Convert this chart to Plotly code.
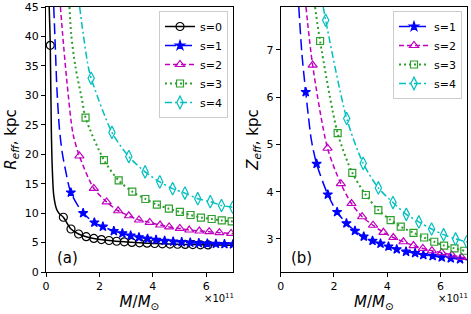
import plotly.graph_objects as go

W, H = 471, 314

# ---------------- data (x in units of 1e11 M_sun) ----------------
labels_a = ["s=0", "s=1", "s=2", "s=3", "s=4"]
labels_b = ["s=1", "s=2", "s=3", "s=4"]

# Panel (a): R_eff [kpc]
a0_mx = [0.16, 0.65, 0.935, 1.22, 1.505, 1.79, 2.075, 2.36, 2.645, 2.93, 3.215,
         3.5, 3.785, 4.07, 4.355, 4.64, 4.925, 5.21, 5.495, 5.78, 6.065]
a0_my = [38.5, 9.3, 7.3, 6.45, 6.0, 5.7, 5.5, 5.35, 5.22, 5.12, 5.03,
         4.96, 4.9, 4.84, 4.79, 4.75, 4.71, 4.68, 4.65, 4.62, 4.6]
a0_lx = [0.12, 0.16, 0.2, 0.24, 0.29, 0.4, 0.5, 0.65, 0.935, 1.22, 1.505, 1.79, 2.36,
         2.93, 3.5, 4.07, 4.64, 5.21, 5.78, 6.35, 7.0]
a0_ly = [45, 38.5, 24, 17, 13, 10.6, 9.9, 9.3, 7.3, 6.45, 6.0, 5.7, 5.35,
         5.12, 4.96, 4.84, 4.75, 4.68, 4.62, 4.58, 4.55]

a1_mx = [0.93, 1.39, 1.81, 2.13, 2.54, 2.86, 3.17, 3.48, 3.8, 4.12, 4.44, 4.76,
         5.08, 5.4, 5.72, 6.04, 6.36, 6.68, 7.0]
a1_my = [13.5, 10.0, 8.4, 7.7, 6.96, 6.56, 6.17, 5.89, 5.65, 5.45, 5.3, 5.17,
         5.07, 4.98, 4.9, 4.84, 4.78, 4.74, 4.7]
a1_lx = [0.29, 0.35, 0.41, 0.5, 0.6, 0.73] + a1_mx
a1_ly = [45, 38, 31, 24.5, 20.5, 17.3] + a1_my

a2_mx = [1.25, 1.79, 2.27, 2.7, 3.1, 3.48, 3.88, 4.27, 4.61, 5.01, 5.36, 5.74,
         6.11, 6.49, 6.93]
a2_my = [19.7, 14.2, 11.9, 10.4, 9.55, 8.83, 8.43, 7.98, 7.65, 7.4, 7.13, 6.96,
         6.85, 6.68, 6.55]
a2_lx = [0.54, 0.62, 0.79, 1.01] + a2_mx + [7.0]
a2_ly = [45, 40.5, 32, 23.5] + a2_my + [6.52]

a3_mx = [1.48, 2.17, 2.72, 3.23, 3.72, 4.15, 4.6, 5.01, 5.41, 5.8, 6.2, 6.58, 6.95]
a3_my = [26.2, 19.0, 15.55, 13.65, 12.4, 11.45, 10.75, 10.2, 9.68, 9.25, 9.0, 8.75, 8.6]
a3_lx = [0.88, 0.94, 1.1, 1.35] + a3_mx + [7.0]
a3_ly = [45, 40.5, 34.9, 29.2] + a3_my + [8.58]

a4_mx = [1.69, 2.47, 3.1, 3.71, 4.26, 4.74, 5.2, 5.68, 6.15, 6.57, 6.99]
a4_my = [32.9, 23.7, 19.6, 17.0, 15.3, 14.15, 13.4, 12.45, 11.95, 11.3, 11.0]
a4_lx = [1.26, 1.39, 1.58] + a4_mx + [7.0]
a4_ly = [45, 40.5, 34.9] + a4_my + [10.98]

# Panel (b): Z_eff [kpc]
b1_mx = [0.94, 1.35, 1.77, 2.12, 2.47, 2.79, 3.12, 3.45, 3.75, 4.05, 4.36, 4.71,
         5.05, 5.36, 5.71, 6.05, 6.39, 6.74]
b1_my = [6.11, 4.59, 3.94, 3.57, 3.33, 3.17, 3.05, 2.96, 2.9, 2.84, 2.78, 2.73,
         2.7, 2.66, 2.64, 2.61, 2.59, 2.57]
b1_lx = [0.68, 0.8, 0.94, 1.04, 1.15] + b1_mx[1:] + [7.0]
b1_ly = [7.91, 6.9, 6.11, 5.6, 5.1] + b1_my[1:] + [2.56]

b2_mx = [1.2, 1.76, 2.26, 2.66, 3.06, 3.47, 3.86, 4.23, 4.61, 4.99, 5.34, 5.68,
         6.05, 6.43, 6.8]
b2_my = [6.68, 4.92, 4.17, 3.75, 3.47, 3.29, 3.14, 3.03, 2.94, 2.86, 2.8, 2.75,
         2.71, 2.66, 2.61]
b2_lx = [0.95] + b2_mx + [7.0]
b2_ly = [7.91] + b2_my + [2.59]

b3_mx = [1.48, 2.14, 2.69, 3.2, 3.67, 4.13, 4.51, 4.99, 5.39, 5.77, 6.14, 6.53, 6.9]
b3_my = [7.19, 5.24, 4.4, 3.93, 3.61, 3.4, 3.26, 3.13, 3.03, 2.94, 2.86, 2.8, 2.75]
b3_lx = [1.29] + b3_mx + [7.0]
b3_ly = [7.91] + b3_my + [2.73]

b4_mx = [1.69, 2.48, 3.1, 3.67, 4.22, 4.72, 5.19, 5.67, 6.12, 6.57, 6.99]
b4_my = [7.63, 5.55, 4.6, 4.08, 3.77, 3.52, 3.36, 3.21, 3.09, 3.0, 2.94]
b4_lx = [1.6] + b4_mx + [7.0]
b4_ly = [7.91] + b4_my + [2.94]

x_ticks = [0, 2, 4, 6]
ya_ticks = [0, 5, 10, 15, 20, 25, 30, 35, 40, 45]
yb_ticks = [3, 4, 5, 6, 7]

# ---------------- styles ----------------
styles = {
    "s=0": dict(color="#000000", dash="solid", symbol="circle-open", size=8, lw=1.5),
    "s=1": dict(color="#0000ff", dash="11px,5px", symbol="star", size=7, lw=1.5),
    "s=2": dict(color="#bf00bf", dash="5px,3px", symbol="triangle-up-open", size=8, lw=1.5),
    "s=3": dict(color="#2ca02c", dash="2px,3px", symbol="square-open", size=7, lw=2),
    "s=4": dict(color="#00bfbf", dash="7px,3px,2px,3px", symbol="diamond-tall-open", size=9, lw=1.5),
}

fig = go.Figure()

def add_series(name, lx, ly, mx, my, xa, ya, legend):
    st = styles[name]
    fig.add_trace(go.Scatter(x=lx, y=ly, mode="lines", xaxis=xa, yaxis=ya,
                             line=dict(color=st["color"], dash=st["dash"], width=st["lw"],
                                       shape="spline", smoothing=0.8),
                             showlegend=False, hoverinfo="skip"))
    fig.add_trace(go.Scatter(x=mx, y=my, mode="markers", xaxis=xa, yaxis=ya,
                             marker=dict(symbol=st["symbol"], size=st["size"], color=st["color"],
                                         line=dict(color=st["color"], width=1.2)),
                             showlegend=False))
    fig.add_trace(go.Scatter(x=[None], y=[None], mode="lines+markers", xaxis=xa, yaxis=ya,
                             name=name, legend=legend,
                             line=dict(color=st["color"], dash=st["dash"], width=st["lw"]),
                             marker=dict(symbol=st["symbol"], size=st["size"], color=st["color"],
                                         line=dict(color=st["color"], width=1.2))))

panel_a = [(a0_lx, a0_ly, a0_mx, a0_my), (a1_lx, a1_ly, a1_mx, a1_my),
           (a2_lx, a2_ly, a2_mx, a2_my), (a3_lx, a3_ly, a3_mx, a3_my),
           (a4_lx, a4_ly, a4_mx, a4_my)]
for name, (lx, ly, mx, my) in zip(labels_a, panel_a):
    add_series(name, lx, ly, mx, my, "x", "y", "legend")

panel_b = [(b1_lx, b1_ly, b1_mx, b1_my), (b2_lx, b2_ly, b2_mx, b2_my),
           (b3_lx, b3_ly, b3_mx, b3_my), (b4_lx, b4_ly, b4_mx, b4_my)]
for name, (lx, ly, mx, my) in zip(labels_b, panel_b):
    add_series(name, lx, ly, mx, my, "x2", "y2", "legend2")

def px2x(p):
    return p / W

def px2y(p):
    return 1 - p / H

FONT = "DejaVu Sans"
axis_common = dict(showline=True, mirror=True, linecolor="black", linewidth=1,
                   ticks="outside", ticklen=4, tickcolor="black", tickwidth=1,
                   showgrid=False, zeroline=False, automargin=False,
                   tickfont=dict(family=FONT, size=11, color="black"))

yd = [px2y(272), px2y(7)]
fig.update_layout(
    width=W, height=H, margin=dict(l=0, r=0, t=0, b=0, autoexpand=False),
    paper_bgcolor="white", plot_bgcolor="white",
    font=dict(family=FONT, color="black"),
    xaxis=dict(domain=[px2x(46), px2x(233)], range=[0, 7], tickvals=x_ticks,
               title=dict(text="<i>M</i>/<i>M</i><sub>⊙</sub>", font=dict(size=15), standoff=4),
               anchor="y", **axis_common),
    yaxis=dict(domain=yd, range=[0, 45], tickvals=ya_ticks,
               title=dict(text="<i>R</i><sub><i>eff</i></sub>, kpc", font=dict(size=15), standoff=4),
               anchor="x", **axis_common),
    xaxis2=dict(domain=[px2x(280.7), px2x(467)], range=[0, 7], tickvals=x_ticks,
                title=dict(text="<i>M</i>/<i>M</i><sub>⊙</sub>", font=dict(size=15), standoff=4),
                anchor="y2", **axis_common),
    yaxis2=dict(domain=yd, range=[2.3, 7.91], tickvals=yb_ticks,
                title=dict(text="<i>Z</i><sub><i>eff</i></sub>, kpc", font=dict(size=15), standoff=4),
                anchor="x2", **axis_common),
    legend=dict(x=px2x(228), y=px2y(11), xanchor="right", yanchor="top",
                bgcolor="white", bordercolor="#cccccc", borderwidth=1,
                font=dict(family=FONT, size=11), itemwidth=30, tracegroupgap=0),
    legend2=dict(x=px2x(462), y=px2y(11), xanchor="right", yanchor="top",
                 bgcolor="white", bordercolor="#cccccc", borderwidth=1,
                 font=dict(family=FONT, size=11), itemwidth=30, tracegroupgap=0),
    annotations=[
        dict(text="(a)", x=px2x(55), y=px2y(258), xref="paper", yref="paper",
             xanchor="left", yanchor="middle", showarrow=False, font=dict(size=15)),
        dict(text="(b)", x=px2x(289), y=px2y(258), xref="paper", yref="paper",
             xanchor="left", yanchor="middle", showarrow=False, font=dict(size=15)),
        dict(text="×10<sup>11</sup>", x=px2x(236), y=px2y(298), xref="paper", yref="paper",
             xanchor="right", yanchor="middle", showarrow=False, font=dict(size=10)),
        dict(text="×10<sup>11</sup>", x=px2x(470), y=px2y(298), xref="paper", yref="paper",
             xanchor="right", yanchor="middle", showarrow=False, font=dict(size=10)),
    ],
)

fig.write_html("out.html", config={"displayModeBar": False},
               post_script="document.body.style.margin='0';")
